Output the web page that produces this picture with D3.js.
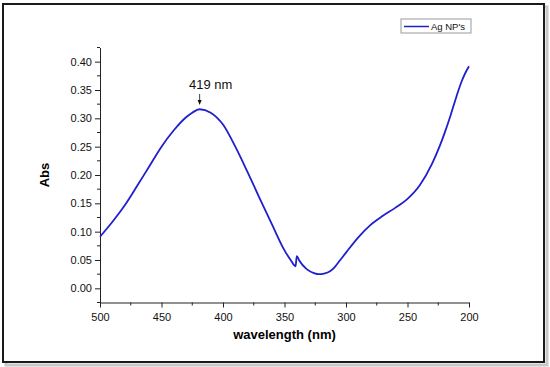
<!DOCTYPE html>
<html>
<head>
<meta charset="utf-8">
<script src="https://cdn.jsdelivr.net/npm/d3@7"></script>
<style>
  body { margin: 0; background: #fff; }
  svg text { font-family: "Liberation Sans", Arial, sans-serif; }
</style>
</head>
<body>
<div id="chart"></div>
<script>
// Spectrum (wavelength nm, absorbance)
var wavelength = [500, 490, 480, 470, 460, 450, 440, 430, 425, 419, 410, 400, 390, 380, 370, 360, 350, 345, 341, 340, 338, 332, 326, 322, 318, 313, 309, 305, 300, 290, 280, 270, 260, 250, 240, 230, 224, 220, 215, 210, 206, 203, 200];
var absorb = [0.091, 0.117, 0.146, 0.180, 0.215, 0.250, 0.279, 0.302, 0.310, 0.316, 0.310, 0.289, 0.250, 0.205, 0.158, 0.112, 0.067, 0.050, 0.039, 0.057, 0.049, 0.034, 0.027, 0.025, 0.026, 0.030, 0.038, 0.049, 0.063, 0.090, 0.112, 0.128, 0.142, 0.158, 0.182, 0.220, 0.250, 0.273, 0.305, 0.340, 0.365, 0.380, 0.392];

var xTicks = [500, 450, 400, 350, 300, 250, 200],
  xMinor = [475, 425, 375, 325, 275, 225],
  yTicks = [0, 0.05, 0.1, 0.15, 0.2, 0.25, 0.3, 0.35, 0.4];

var peak = { nm: 419, label: "419 nm" },
  seriesName = "Ag NP's";

var W = 550, H = 367;

var svg = d3.select("#chart").append("svg")
  .attr("width", W)
  .attr("height", H);

// frame with soft shadow
svg.append("rect")
  .attr("x", 6).attr("y", 7)
  .attr("width", 541).attr("height", 358)
  .attr("fill", "none")
  .attr("stroke", "#c8c8c8")
  .attr("stroke-width", 3);
svg.append("rect")
  .attr("x", 3).attr("y", 4)
  .attr("width", 541).attr("height", 358)
  .attr("fill", "#fff")
  .attr("stroke", "#1a1a1a")
  .attr("stroke-width", 2);

// scales
var x = d3.scaleLinear().domain([500, 200]).range([100, 469]);
var y = d3.scaleLinear().domain([-0.025, 0.425]).range([302.5, 47.5]);

// y axis
var yAxis = svg.append("g")
  .attr("transform", "translate(100,0)")
  .call(d3.axisLeft(y).tickValues(yTicks).tickFormat(d3.format(".2f")).tickSize(5).tickSizeOuter(0));
yAxis.append("g").selectAll("line")
  .data(d3.range(-0.025, 0.426, 0.05))
  .enter().append("line")
  .attr("x1", 0).attr("x2", -3)
  .attr("y1", function(d) { return y(d); })
  .attr("y2", function(d) { return y(d); })
  .attr("stroke", "#222");

// x axis
var xAxis = svg.append("g")
  .attr("transform", "translate(0,302.5)")
  .call(d3.axisBottom(x).tickValues(xTicks).tickSize(5).tickSizeOuter(0));
xAxis.append("g").selectAll("line")
  .data(xMinor)
  .enter().append("line")
  .attr("y1", 0).attr("y2", 3)
  .attr("x1", function(d) { return x(d); })
  .attr("x2", function(d) { return x(d); })
  .attr("stroke", "#222");

svg.selectAll(".domain").attr("stroke", "#222");
svg.selectAll(".tick line").attr("stroke", "#222");
svg.selectAll(".tick text")
  .attr("font-size", 11)
  .attr("fill", "#111")
  .attr("font-family", "Liberation Sans, Arial, sans-serif");
xAxis.selectAll(".tick text").attr("dy", "0.95em");

// axis titles
svg.append("text")
  .attr("x", x(350)).attr("y", 339)
  .attr("text-anchor", "middle")
  .attr("font-size", 13).attr("font-weight", "bold")
  .text("wavelength (nm)");
svg.append("text")
  .attr("transform", "translate(49," + y(0.2) + ")rotate(-90)")
  .attr("text-anchor", "middle")
  .attr("font-size", 13).attr("font-weight", "bold")
  .text("Abs");

// spectrum
var pts = wavelength.map(function(d, i) { return [d, absorb[i]]; });
var line = d3.line()
  .x(function(d) { return x(d[0]); })
  .y(function(d) { return y(d[1]); })
  .curve(d3.curveMonotoneX);
svg.append("path")
  .datum(pts)
  .attr("d", line)
  .attr("fill", "none")
  .attr("stroke", "#1f1fd0")
  .attr("stroke-width", 1.8);

// peak annotation
var px = x(peak.nm);
svg.append("text")
  .attr("x", px + 11).attr("y", 89)
  .attr("text-anchor", "middle")
  .attr("font-size", 13).attr("fill", "#111")
  .text(peak.label);
svg.append("line")
  .attr("x1", px).attr("x2", px)
  .attr("y1", 94).attr("y2", 100)
  .attr("stroke", "#111").attr("stroke-width", 0.8);
svg.append("path")
  .attr("d", "M" + (px - 2) + ",100L" + (px + 2) + ",100L" + px + ",105Z")
  .attr("fill", "#111");

// legend
var lg = svg.append("g").attr("transform", "translate(401,19)");
lg.append("rect")
  .attr("width", 70).attr("height", 14)
  .attr("fill", "#fff")
  .attr("stroke", "#999").attr("stroke-width", 1);
lg.append("line")
  .attr("x1", 3).attr("x2", 28)
  .attr("y1", 7.5).attr("y2", 7.5)
  .attr("stroke", "#1f1fd0").attr("stroke-width", 1.5);
lg.append("text")
  .attr("x", 30).attr("y", 11)
  .attr("font-size", 9.5).attr("fill", "#111")
  .text(seriesName);
</script>
</body>
</html>
